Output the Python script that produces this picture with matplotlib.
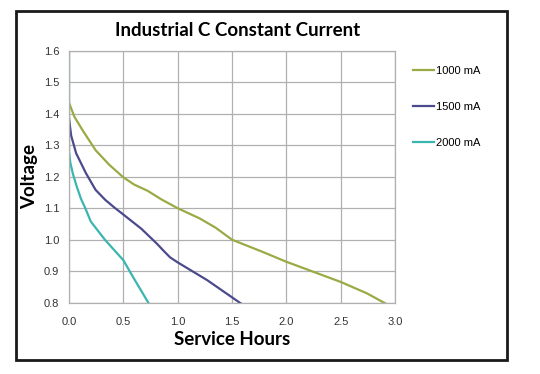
import matplotlib.pyplot as plt
from matplotlib.patches import Rectangle

# --- Data --------------------------------------------------------------------
HOURS_1000 = [0.0, 0.05, 0.126, 0.245, 0.37, 0.5, 0.6, 0.725, 0.85, 1.0, 1.2, 1.35,
              1.5, 1.77, 2.0, 2.25, 2.5, 2.74, 2.91]
VOLTS_1000 = [1.435, 1.39, 1.347, 1.284, 1.238, 1.198, 1.175, 1.155, 1.128, 1.10, 1.068,
              1.038, 1.0, 0.963, 0.93, 0.898, 0.866, 0.83, 0.798]

HOURS_1500 = [0.0, 0.02, 0.066, 0.156, 0.245, 0.335, 0.425, 0.485, 0.665, 0.81, 0.87,
              0.93, 1.0, 1.27, 1.58]
VOLTS_1500 = [1.385, 1.33, 1.274, 1.211, 1.158, 1.126, 1.1, 1.084, 1.035, 0.987, 0.965,
              0.944, 0.928, 0.872, 0.798]

HOURS_2000 = [0.0, 0.0, 0.012, 0.035, 0.07, 0.11, 0.15, 0.2, 0.335, 0.5, 0.59, 0.68, 0.73]
VOLTS_2000 = [1.6, 1.28, 1.245, 1.21, 1.17, 1.13, 1.1, 1.058, 0.998, 0.935, 0.881, 0.829, 0.8]

SERIES = [
    ("1000 mA", HOURS_1000, VOLTS_1000, "#9aab45"),
    ("1500 mA", HOURS_1500, VOLTS_1500, "#4b4a8c"),
    ("2000 mA", HOURS_2000, VOLTS_2000, "#3bb5b0"),
]

X_TICKS = [0.0, 0.5, 1.0, 1.5, 2.0, 2.5, 3.0]
Y_TICKS = [0.8, 0.9, 1.0, 1.1, 1.2, 1.3, 1.4, 1.5, 1.6]

# --- Plot ---------------------------------------------------------------------
plt.rcParams['font.family'] = ['Liberation Sans', 'DejaVu Sans']
BOLD_FONT = ['Lato', 'DejaVu Sans']

fig = plt.figure(figsize=(5.4, 3.74), dpi=100)
ax = fig.add_axes([0.1278, 0.1906, 0.6037, 0.6738])

for label, xs, ys, color in SERIES:
    ax.plot(xs, ys, color=color, linewidth=1.6, label=label,
            solid_joinstyle='round')

ax.set_xlim(0, 3.0)
ax.set_ylim(0.8, 1.6)
ax.set_xticks(X_TICKS)
ax.set_yticks(Y_TICKS)
ax.set_xticklabels([f"{v:.1f}" for v in X_TICKS])
ax.set_yticklabels([f"{v:.1f}" for v in Y_TICKS])
ax.tick_params(axis='x', length=0, labelsize=8, labelcolor='#333333', pad=10)
ax.tick_params(axis='y', length=0, labelsize=8, labelcolor='#333333', pad=7)
ax.grid(True, color='#b0b0b0', linewidth=0.9)
for sp in ax.spines.values():
    sp.set_color('#b0b0b0')
    sp.set_linewidth(0.9)

ax.set_xlabel('Service Hours', fontsize=13.5, fontweight='bold',
              family=BOLD_FONT, labelpad=3)
ax.set_ylabel('Voltage', fontsize=13.5, fontweight='bold',
              family=BOLD_FONT, labelpad=4)
fig.text(0.44, 0.918, 'Industrial C Constant Current', ha='center', va='center',
         fontsize=13.5, fontweight='bold', family=BOLD_FONT)

leg = ax.legend(loc='upper left', bbox_to_anchor=(1.055, 0.939), frameon=False,
                fontsize=8, handlelength=1.9, handletextpad=0.15,
                labelspacing=2.35, borderaxespad=0, borderpad=0)

# outer frame
fig.patches.append(Rectangle((0.0296, 0.0374), 0.9094, 0.9332,
                             transform=fig.transFigure, fill=False,
                             edgecolor='#1a1a1a', linewidth=2))

plt.savefig('out.png', dpi=100)
